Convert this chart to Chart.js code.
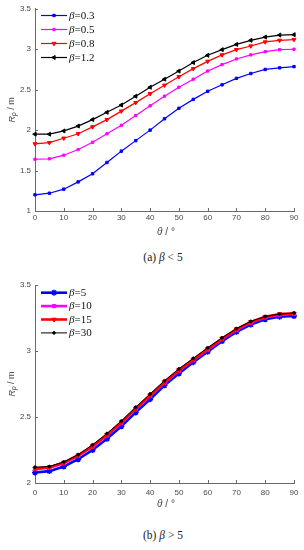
<!DOCTYPE html>
<html>
<head>
<meta charset="utf-8">
<script src="https://cdn.jsdelivr.net/npm/chart.js@4.4.0/dist/chart.umd.min.js"></script>
<style>
  body { margin: 0; background: #fff; width: 304px; height: 550px; position: relative; overflow: hidden; }
  .box { position: absolute; left: 0; width: 304px; height: 250px; }
  .cap { position: absolute; left: 11px; width: 304px; text-align: center;
         font: 11.5px "Liberation Serif", "Times New Roman", serif; color: #222; }
</style>
</head>
<body>
<div class="box" style="top:0"><canvas id="chartA"></canvas></div>
<div class="cap" style="top:251px">(a) <i>β</i> &lt; 5</div>
<div class="box" style="top:270px"><canvas id="chartB"></canvas></div>
<div class="cap" style="top:529px">(b) <i>β</i> &gt; 5</div>
<script>
// data
const theta = [0, 5, 10, 15, 20, 25, 30, 35, 40, 45, 50, 55, 60, 65, 70, 75, 80, 85, 90]
const xTicks = [0, 10, 20, 30, 40, 50, 60, 70, 80, 90]

// (a) beta < 5
const betaSmall = ["0.3", "0.5", "0.8", "1.2"]
const rpBeta03 = [1.2, 1.22, 1.27, 1.36, 1.46, 1.6, 1.74, 1.87, 2.0, 2.14, 2.27, 2.38, 2.48, 2.56, 2.64, 2.7, 2.75, 2.77, 2.785]
const rpBeta05 = [1.64, 1.645, 1.69, 1.76, 1.85, 1.955, 2.06, 2.18, 2.3, 2.42, 2.53, 2.63, 2.73, 2.81, 2.88, 2.93, 2.97, 2.995, 3.0]
const rpBeta08 = [1.83, 1.845, 1.9, 1.955, 2.04, 2.13, 2.235, 2.34, 2.45, 2.555, 2.66, 2.76, 2.85, 2.93, 2.995, 3.04, 3.09, 3.11, 3.12]
const rpBeta12 = [1.95, 1.95, 1.99, 2.05, 2.13, 2.22, 2.31, 2.42, 2.53, 2.63, 2.73, 2.835, 2.925, 2.995, 3.06, 3.11, 3.15, 3.175, 3.18]
const yTicksA = [1, 1.5, 2, 2.5, 3, 3.5]

// (b) beta > 5
const betaLarge = ["5", "10", "15", "30"]
const rpBeta5 = [2.08, 2.09, 2.125, 2.18, 2.25, 2.335, 2.43, 2.535, 2.635, 2.74, 2.83, 2.915, 2.995, 3.075, 3.145, 3.2, 3.24, 3.26, 3.265]
const rpBeta10 = [2.105, 2.115, 2.15, 2.205, 2.275, 2.36, 2.455, 2.56, 2.66, 2.76, 2.85, 2.93, 3.01, 3.09, 3.16, 3.215, 3.255, 3.275, 3.28]
const rpBeta15 = [2.11, 2.12, 2.155, 2.21, 2.28, 2.365, 2.46, 2.565, 2.665, 2.765, 2.855, 2.935, 3.015, 3.095, 3.165, 3.22, 3.26, 3.28, 3.285]
const rpBeta30 = [2.12, 2.125, 2.16, 2.215, 2.29, 2.375, 2.47, 2.575, 2.675, 2.775, 2.865, 2.945, 3.025, 3.1, 3.17, 3.225, 3.262, 3.28, 3.288]
const yTicksB = [2, 2.5, 3, 3.5]

const axisColor = "#6a6a6a"
const labelColor = "#4a4a4a"
const sans = '"Liberation Sans", Arial, sans-serif'
const serif = '"Liberation Serif", "Times New Roman", serif'

// draw a run of differently styled text pieces
function drawParts(ctx, parts, x, y, align) {
  let w = 0
  parts.forEach((p) => {
    ctx.font = p.f
    p.w = ctx.measureText(p.t).width
    w += p.w
  })
  let cx = align === "left" ? x : x - w / 2
  ctx.textAlign = "left"
  ctx.textBaseline = "middle"
  parts.forEach((p) => {
    ctx.font = p.f
    ctx.fillText(p.t, cx, y + (p.dy || 0))
    cx += p.w
  })
}

// inward ticks, axis titles and the in-plot legend
const axisDecor = {
  id: "axisDecor",
  afterDraw(chart, args, o) {
    const { ctx, chartArea: a } = chart
    const x = chart.scales.x
    const y = chart.scales.y
    ctx.save()
    ctx.strokeStyle = axisColor
    ctx.lineWidth = 1
    ctx.beginPath()
    x.ticks.forEach((t) => {
      const px = Math.round(x.getPixelForValue(t.value)) + 0.5
      ctx.moveTo(px, a.bottom)
      ctx.lineTo(px, a.bottom - 3)
    })
    y.ticks.forEach((t) => {
      const py = Math.round(y.getPixelForValue(t.value)) + 0.5
      ctx.moveTo(a.left, py)
      ctx.lineTo(a.left + 3, py)
    })
    ctx.stroke()

    ctx.fillStyle = labelColor
    drawParts(ctx, [
      { t: "θ", f: "italic 10px " + sans },
      { t: " / °", f: "10px " + sans },
    ], 166, o.xTitleY)

    ctx.save()
    ctx.translate(12, (a.top + a.bottom) / 2)
    ctx.rotate(-Math.PI / 2)
    drawParts(ctx, [
      { t: "R", f: "italic 9px " + sans },
      { t: "p", f: "italic 6.5px " + sans, dy: 2 },
      { t: " / m", f: "9px " + sans },
    ], 0, 0)
    ctx.restore()

    // legend
    chart.data.datasets.forEach((ds, i) => {
      const ly = o.legendY + i * o.legendDy
      ctx.strokeStyle = ds.borderColor
      ctx.lineWidth = ds.borderWidth
      ctx.beginPath()
      ctx.moveTo(41, ly)
      ctx.lineTo(67, ly)
      ctx.stroke()
      ctx.fillStyle = ds.borderColor
      ctx.lineWidth = ds.pointBorderWidth || 1
      if (Chart.helpers && Chart.helpers.drawPoint) {
        Chart.helpers.drawPoint(ctx, {
          pointStyle: ds.pointStyle,
          radius: ds.pointRadius,
          rotation: ds.pointRotation || 0,
          borderWidth: ds.pointBorderWidth || 1,
        }, 54, ly)
      }
      ctx.fillStyle = "#111"
      drawParts(ctx, [
        { t: "β", f: "italic 11px " + serif },
        { t: "=" + o.betas[i], f: "11px " + serif },
      ], 69, ly + 0.5, "left")
    })
    ctx.restore()
  },
}

function series(values, color, style) {
  return {
    data: theta.map((t, i) => ({ x: t, y: values[i] })),
    borderColor: color,
    backgroundColor: color,
    pointBackgroundColor: color,
    pointBorderColor: color,
    borderWidth: style.lw,
    pointStyle: style.ps,
    pointRadius: style.r,
    pointRotation: style.rot || 0,
    pointBorderWidth: style.pbw || 1,
    order: style.order,
    tension: 0,
    clip: false,
  }
}

function makeChart(id, datasets, yTicks, cfg) {
  return new Chart(document.getElementById(id), {
    type: "line",
    data: { datasets },
    options: {
      responsive: true,
      maintainAspectRatio: false,
      animation: false,
      events: [],
      layout: { padding: { top: cfg.padTop, right: 10, bottom: cfg.padBottom, left: 0 } },
      plugins: {
        legend: { display: false },
        tooltip: { enabled: false },
        axisDecor: cfg.decor,
      },
      scales: {
        x: {
          type: "linear",
          min: 0,
          max: 90,
          afterBuildTicks: (s) => { s.ticks = xTicks.map((v) => ({ value: v })) },
          afterFit: (s) => { s.height = 20 },
          grid: { display: false, drawTicks: false },
          border: { display: true, color: axisColor, width: 1 },
          ticks: { color: labelColor, font: { family: sans, size: 8 }, padding: cfg.xPad, maxRotation: 0, callback: (v) => String(v) },
        },
        y: {
          min: yTicks[0],
          max: yTicks[yTicks.length - 1],
          afterBuildTicks: (s) => { s.ticks = yTicks.map((v) => ({ value: v })) },
          afterFit: (s) => { s.width = 35 },
          grid: { display: false, drawTicks: false },
          border: { display: true, color: axisColor, width: 1 },
          ticks: { color: labelColor, font: { family: sans, size: 8 }, padding: 4, callback: (v) => String(v) },
        },
      },
    },
    plugins: [axisDecor],
  })
}

makeChart("chartA", [
  series(rpBeta03, "#0000ff", { lw: 1.2, ps: "rect", r: 1.7, order: 3 }),
  series(rpBeta05, "#ff00ff", { lw: 1.2, ps: "rect", r: 1.6, order: 2 }),
  series(rpBeta08, "#ff0000", { lw: 1.2, ps: "triangle", r: 2.3, rot: 180, order: 1 }),
  series(rpBeta12, "#000000", { lw: 1.2, ps: "triangle", r: 2.3, rot: -90, order: 0 }),
], yTicksA, {
  padTop: 8, padBottom: 19, xPad: 2,
  decor: { xTitleY: 232, legendY: 15.5, legendDy: 14, betas: betaSmall },
})

makeChart("chartB", [
  series(rpBeta5, "#0000ff", { lw: 2.6, ps: "star", r: 3, pbw: 1.5, order: 3 }),
  series(rpBeta10, "#ff00ff", { lw: 2.6, ps: "rect", r: 2.3, order: 2 }),
  series(rpBeta15, "#ff0000", { lw: 2.6, ps: "triangle", r: 2.6, rot: 180, order: 1 }),
  series(rpBeta30, "#000000", { lw: 1, ps: "circle", r: 1.3, order: 0 }),
], yTicksB, {
  padTop: 15, padBottom: 17, xPad: 5,
  decor: { xTitleY: 234, legendY: 22.7, legendDy: 13.4, betas: betaLarge },
})
</script>
</body>
</html>
